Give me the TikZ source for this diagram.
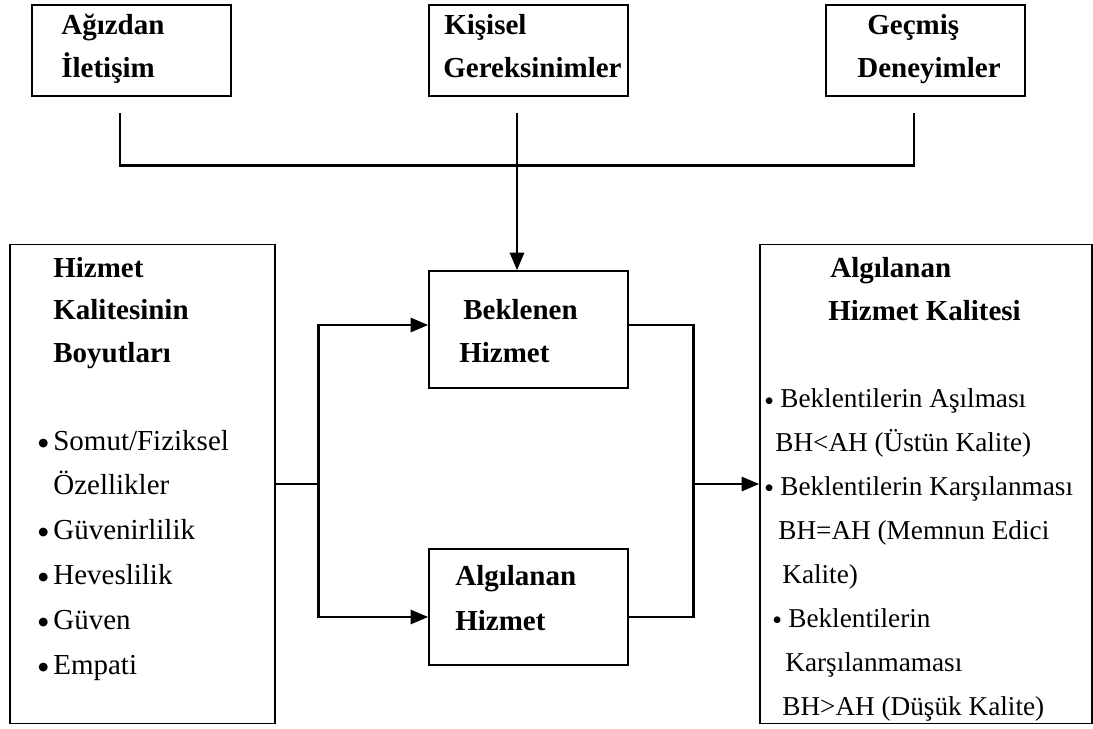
\documentclass[tikz,border=0pt]{standalone}
\usepackage{fontspec}
\setmainfont{Liberation Serif}
\newfontfamily\simge{DejaVu Sans}
\usetikzlibrary{arrows.meta}

\newcommand{\madde}[2]{\makebox[0.3cm][l]{\raisebox{#2}{\simge\fontsize{#1}{#1}\selectfont ●}}}

\begin{document}
\begin{tikzpicture}[x=0.02cm,y=-0.02cm,
		kutu/.style={draw,line width=0.9pt,inner sep=0pt},
		baslik/.style={anchor=base west,align=left,inner sep=0pt,font=\fontsize{16.5}{24}\selectfont\bfseries},
		liste/.style={anchor=base west,align=left,inner sep=0pt,font=\fontsize{16.5}{25.5}\selectfont},
		hat/.style={line width=1.5pt},
		ok/.style={hat,-{Triangle[length=10pt,width=8pt]}}]
		\useasboundingbox (0,0) rectangle (1093,728);

		% ust kutular
		\node[kutu,minimum width=3.98cm,minimum height=1.82cm] (agiz) at (131.5,50.5) {};
		\node[kutu,minimum width=3.98cm,minimum height=1.82cm] (kisisel) at (528.5,50.5) {};
		\node[kutu,minimum width=3.98cm,minimum height=1.82cm] (gecmis) at (925.5,50.5) {};
		\node[baslik] (agizyazi) at (61,77) {Ağızdan\\İletişim};
		\node[baslik] (kisiselyazi) at (443,77) {\hspace*{0.02cm}Kişisel\\Gereksinimler};
		\node[baslik] (gecmisyazi) at (857,77) {\hspace*{0.2cm}Geçmiş\\Deneyimler};

		% orta kutular
		\node[kutu,minimum width=3.98cm,minimum height=2.34cm] (bekl) at (528.5,329.5) {};
		\node[kutu,minimum width=3.98cm,minimum height=2.32cm] (algi) at (528.5,607) {};
		\node[baslik] (beklyazi) at (459,362) {\hspace*{0.08cm}Beklenen\\Hizmet};
		\node[baslik,font=\fontsize{16.5}{25.5}\selectfont\bfseries] (algiyazi) at (455,630) {Algılanan\\Hizmet};

		% sol kutu
		\node[kutu,minimum width=5.3cm,minimum height=9.58cm] (boyut) at (142.5,484) {};
		\node[baslik] (boyutyazi) at (53,362) {Hizmet\\Kalitesinin\\Boyutları};
		\node[liste] (boyutliste) at (38,674) {\madde{6.5}{0.08cm}Somut/Fiziksel\\
			\hspace*{0.3cm}Özellikler\\
			\madde{6.5}{0.08cm}Güvenirlilik\\
			\madde{6.5}{0.08cm}Heveslilik\\
			\madde{6.5}{0.08cm}Güven\\
			\madde{6.5}{0.08cm}Empati};

		% sag kutu
		\node[kutu,minimum width=6.64cm,minimum height=9.58cm] (kalite) at (926,484) {};
		\node[baslik] (kaliteyazi) at (828,320) {\hspace*{0.04cm}Algılanan\\Hizmet Kalitesi};
		\node[liste,font=\fontsize{15.5}{25}\selectfont] (kaliteliste) at (765,715) {\madde{5}{0.09cm}Beklentilerin Aşılması\\
			\hspace*{0.2cm}BH<AH (Üstün Kalite)\\
			\madde{5}{0.09cm}Beklentilerin Karşılanması\\
			\hspace*{0.26cm}BH=AH (Memnun Edici\\
			\hspace*{0.34cm}Kalite)\\
			\hspace*{0.16cm}\madde{5}{0.09cm}Beklentilerin\\
			\hspace*{0.4cm}Karşılanmaması\\
			\hspace*{0.34cm}BH>AH (Düşük Kalite)};

		% baglantilar
		\draw[hat] ([xshift=-0.23cm,yshift=-0.32cm]agiz.south) -- ++(0,53) -| ([xshift=-0.23cm,yshift=-0.32cm]gecmis.south);
		\draw[ok] ([xshift=-0.23cm,yshift=-0.32cm]kisisel.south) -- ([xshift=-0.23cm]bekl.north);

		\draw[hat] (boyut.east) -- ++(43,0) coordinate (ayrim);
		\draw[ok] (ayrim) |- ([yshift=0.09cm]bekl.west);
		\draw[ok] (ayrim) |- ([yshift=-0.2cm]algi.west);

		\draw[hat] ([yshift=0.09cm]bekl.east) -- ++(65,0) coordinate (ust) |- ([yshift=-0.2cm]algi.east);
		\draw[ok] (ust |- ayrim) -- (kalite.west |- ayrim);
	\end{tikzpicture}
\end{document}
